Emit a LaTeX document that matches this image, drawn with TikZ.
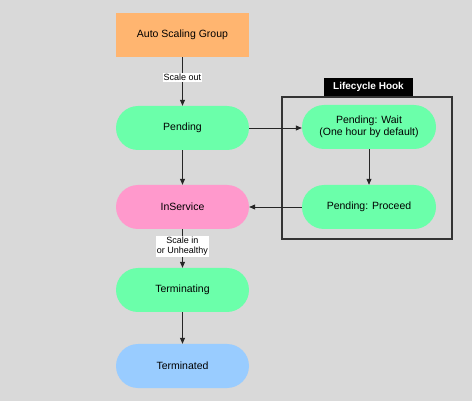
\documentclass[tikz,border=0pt]{standalone}
\usepackage{fontspec}
\setmainfont{Liberation Sans}
\usetikzlibrary{arrows.meta}
\definecolor{bgc}{HTML}{D9D9D9}
\definecolor{orng}{HTML}{FFB570}
\definecolor{grn}{HTML}{6BFFAA}
\definecolor{pnk}{HTML}{FF99CC}
\definecolor{blu}{HTML}{99CCFF}
\definecolor{hookc}{HTML}{333333}
\begin{document}
\begin{tikzpicture}[x=1pt,y=-1pt,
  state/.style={minimum width=133pt,minimum height=44pt,rounded corners=22pt,inner sep=0pt,align=center,font=\fontsize{10.5}{12.5}\selectfont},
  conn/.style={draw=black!85,line width=0.8pt,-{Triangle[length=6pt,width=5pt]}},
  lbl/.style={fill=white,inner sep=1pt,align=center,font=\fontsize{9}{10.5}\selectfont}]
\fill[bgc] (0,0) rectangle (472,401);
\useasboundingbox (0,0) rectangle (472,401);
% lifecycle hook box
\draw[hookc,line width=2pt] (282,97) rectangle (452,239);
\node[fill=black,text=white,font=\bfseries\fontsize{10}{12}\selectfont,minimum width=89pt,minimum height=18pt,inner sep=0pt] (hook) at (368.5,87) {Lifecycle Hook};
\node[fill=orng,minimum width=133pt,minimum height=44pt,inner sep=0pt,font=\fontsize{10.5}{12.5}\selectfont] (asg) at (182.5,35) {Auto Scaling Group};
\node[state,fill=grn] (pend) at (182.5,128) {Pending};
\node[state,fill=pnk] (insv) at (182.5,207) {InService};
\node[state,fill=grn] (term) at (182.5,290) {Terminating};
\node[state,fill=blu] (termd) at (182.5,366) {Terminated};
\node[state,fill=grn,minimum width=134pt] (wait) at (369,127) {Pending: Wait\\(One hour by default)};
\node[state,fill=grn,minimum width=134pt] (proc) at (369,207) {Pending: Proceed};
\draw[conn] (asg) -- node[lbl,pos=0.42] {Scale out} (pend);
\draw[conn] (pend) -- (insv);
\draw[conn] (insv) -- node[lbl,pos=0.44] {Scale in\\or Unhealthy} (term);
\draw[conn] (term) -- (termd);
\draw[conn] (pend.east) -- (wait.west |- pend.east);
\draw[conn] (wait) -- (proc);
\draw[conn] (proc) -- (insv);
\end{tikzpicture}
\end{document}
